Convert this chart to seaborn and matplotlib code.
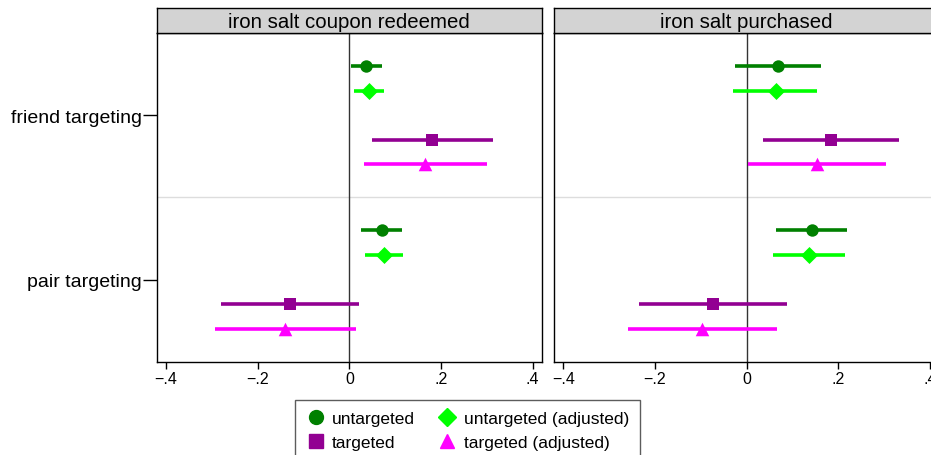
import numpy as np
import matplotlib
matplotlib.use("Agg")
import matplotlib.pyplot as plt
import pandas as pd
import seaborn as sb

# data
panels = ["iron salt coupon redeemed", "iron salt purchased"]
groups = ["friend targeting", "pair targeting"]
series = ["untargeted", "untargeted (adjusted)", "targeted", "targeted (adjusted)"]

# estimates, per panel -> group -> series
coupon_est = [[0.036, 0.043, 0.180, 0.165],
              [0.071, 0.076, -0.129, -0.140]]
coupon_lo = [[0.004, 0.010, 0.049, 0.032],
             [0.026, 0.034, -0.280, -0.294]]
coupon_hi = [[0.071, 0.076, 0.313, 0.300],
             [0.116, 0.117, 0.022, 0.014]]

purch_est = [[0.068, 0.063, 0.184, 0.153],
             [0.142, 0.137, -0.074, -0.097]]
purch_lo = [[-0.026, -0.029, 0.035, 0.004],
            [0.065, 0.058, -0.234, -0.260]]
purch_hi = [[0.162, 0.153, 0.332, 0.305],
            [0.219, 0.215, 0.088, 0.067]]

colors = {"untargeted": "#008000", "untargeted (adjusted)": "#00ff00",
          "targeted": "#920092", "targeted (adjusted)": "#ff00ff"}
markers = {"untargeted": "o", "untargeted (adjusted)": "D",
           "targeted": "s", "targeted (adjusted)": "^"}
msize = {"untargeted": 80, "untargeted (adjusted)": 75,
         "targeted": 80, "targeted (adjusted)": 95}
offsets = [-0.3, -0.15, 0.15, 0.3]

rows = []
for p, (est, lo, hi) in zip(panels, [(coupon_est, coupon_lo, coupon_hi),
                                     (purch_est, purch_lo, purch_hi)]):
    for gi, g in enumerate(groups):
        for si, s in enumerate(series):
            rows.append({"panel": p, "group": g, "series": s,
                         "ypos": gi + 1 + offsets[si],
                         "est": est[gi][si], "lo": lo[gi][si], "hi": hi[gi][si]})
df = pd.DataFrame(rows)

sb.set_style("white")
plt.rcParams["font.family"] = ["Liberation Sans", "DejaVu Sans"]
plt.rcParams["text.color"] = "black"
plt.rcParams["xtick.labelcolor"] = "black"
plt.rcParams["ytick.labelcolor"] = "black"

fig = plt.figure(figsize=(9.31, 4.56), dpi=100)
W, H = 931, 456
lefts = [157, 554.3]
pw = 384.7
top, bot = 34, 362.7

xt = [-0.4, -0.2, 0, 0.2, 0.4]
xtl = ["\u2212.4", "\u2212.2", "0", ".2", ".4"]

for i, p in enumerate(panels):
    ax = fig.add_axes([lefts[i] / W, 1 - bot / H, pw / W, (bot - top) / H])
    sub = df[df.panel == p]
    ax.axvline(0, color="#333333", lw=1, zorder=1)
    ax.axhline(1.5, color="#dddddd", lw=1, zorder=0)
    for s in series:
        d = sub[sub.series == s]
        ax.hlines(d.ypos, d.lo, d.hi, color=colors[s], lw=2.6, zorder=2)
        sb.scatterplot(data=d, x="est", y="ypos", ax=ax, color=colors[s],
                       marker=markers[s], s=msize[s], edgecolor=colors[s],
                       linewidth=0, zorder=3, legend=False)
    ax.set_xlim(-0.42, 0.42)
    ax.set_ylim(2.5, 0.5)
    ax.set_xlabel("")
    ax.set_ylabel("")
    ax.set_xticks(xt)
    ax.set_xticklabels(xtl, fontsize=11.5)
    ax.tick_params(axis="x", direction="out", length=5, width=1, color="black",
                   pad=2, bottom=True)
    if i == 0:
        ax.set_yticks([1, 2])
        ax.set_yticklabels(groups, fontsize=14)
        ax.tick_params(axis="y", direction="out", length=10, width=1,
                       color="black", pad=1, left=True)
    else:
        ax.set_yticks([])
    for sp in ax.spines.values():
        sp.set_color("black")
        sp.set_linewidth(1)

    # panel header strip
    hax = fig.add_axes([lefts[i] / W, 1 - top / H, pw / W, 25 / H])
    hax.set_facecolor("#d3d3d3")
    hax.set_xticks([])
    hax.set_yticks([])
    for sp in hax.spines.values():
        sp.set_color("black")
        sp.set_linewidth(1)
    hax.text(0.5, 0.47, p, ha="center", va="center", fontsize=14.7,
             transform=hax.transAxes)

handles = [plt.Line2D([], [], ls="none", marker=markers[s], color=colors[s],
                      markersize=10 if s != "untargeted (adjusted)" else 9.5)
           for s in ["untargeted", "targeted", "untargeted (adjusted)", "targeted (adjusted)"]]
labels = ["untargeted", "targeted", "untargeted (adjusted)", "targeted (adjusted)"]
leg = fig.legend(handles, labels, ncol=2, loc="upper center",
                 bbox_to_anchor=(467.5 / W, 1 - 401 / H), fontsize=12.5,
                 frameon=True, fancybox=False, edgecolor="#333333",
                 handletextpad=0.4, columnspacing=1.3, labelspacing=0.5,
                 borderpad=0.65, handlelength=1.1, borderaxespad=0)
leg.get_frame().set_linewidth(1)

fig.savefig("out.png", dpi=100)
